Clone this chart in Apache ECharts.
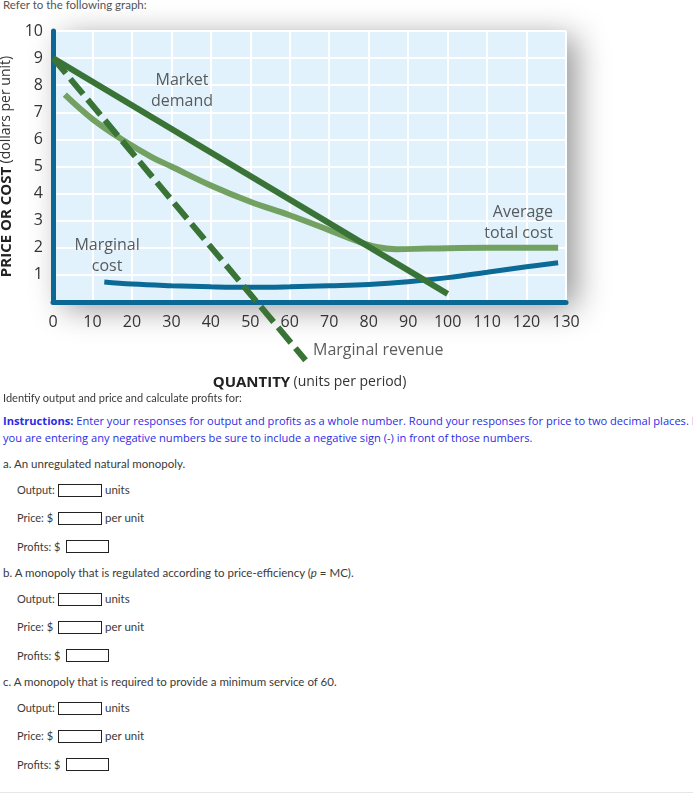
<!DOCTYPE html>
<html>
<head>
<meta charset="utf-8">
<script src="https://cdn.jsdelivr.net/npm/echarts@6/dist/echarts.min.js"></script>
<style>
  html, body { margin:0; padding:0; background:#fff; width:693px; height:799px; overflow:hidden; }
  body { position:relative; font-family:"Lato","Open Sans",sans-serif; font-size:11.5px; color:#3a3a3a; }
  #chart { position:absolute; left:0; top:0; width:693px; height:395px; }
  .t { position:absolute; white-space:nowrap; line-height:14px; }
  .l { font-size:11px; }
  .box { position:absolute; width:42px; height:11px; border:1px solid #222; background:#fff; }
  .box.p { width:41px; }
  #instr { position:absolute; left:3px; top:412px; width:702px; line-height:17px; color:#2b2be6; white-space:normal; font-family:"Open Sans",sans-serif; font-size:11.1px; }
  #rule { position:absolute; left:0; top:792px; width:693px; height:1px; background:#e6e6e6; }
</style>
</head>
<body>
<div class="t" style="left:3px;top:-2px;color:#555;">Refer to the following graph:</div>
<div id="chart"></div>
<div class="t" style="left:3px;top:391px;font-size:11px;">Identify output and price and calculate profits for:</div>
<div id="instr"><b>Instructions:</b> Enter your responses for output and profits as a whole number. Round your responses for price to two decimal places. If you are entering any negative numbers be sure to include a negative sign (-) in front of those numbers.</div>
<div id="form"></div>
<div id="rule"></div>
<script>
// ---- data ----
const xTicks = [0,10,20,30,40,50,60,70,80,90,100,110,120,130];
const yTicks = [1,2,3,4,5,6,7,8,9,10];
const demand = [[0,9],[100,0.3]];
const marginalRevenue = [[0,9],[64,-2.15]];
const averageTotalCost = [[3,7.65],[10,6.75],[18,5.95],[25,5.35],[30,5.0],[40,4.3],[50,3.7],[60,3.2],[70,2.65],[77,2.25],[82,2.03],[87,1.95],[95,1.97],[110,2.0],[128,2.0]];
const marginalCost = [[13,0.74],[20,0.66],[30,0.6],[40,0.56],[50,0.54],[60,0.56],[70,0.6],[80,0.65],[90,0.75],[100,0.9],[110,1.1],[120,1.3],[128,1.45]];
const curveLabels = [
  {name:'Market\ndemand', value:[32.7,7.8], align:'center'},
  {name:'Average\ntotal cost', value:[126.7,2.92], align:'right'},
  {name:'Marginal\ncost', value:[13.7,1.7], align:'center'},
  {name:'Marginal revenue', value:[65.9,-1.77], align:'left'}
];
const parts = [
  {head:'a. An unregulated natural monopoly.', y:464},
  {head:'b. A monopoly that is regulated according to price-efficiency (<i>p</i> = MC).', y:573},
  {head:'c. A monopoly that is required to provide a minimum service of 60.', y:682}
];

// ---- form ----
const form = document.getElementById('form');
let html = '';
parts.forEach(p => {
  html += `<div class="t" style="left:3px;top:${p.y-7}px;">${p.head}</div>`;
  const o = p.y + 20, pr = p.y + 48, pf = p.y + 76;
  html += `<div class="t l" style="left:17px;top:${o-1}px;">Output:</div><div class="box" style="left:58px;top:${o}px;"></div><div class="t" style="left:105px;top:${o-1}px;">units</div>`;
  html += `<div class="t l" style="left:17px;top:${pr-1}px;">Price: $</div><div class="box" style="left:58px;top:${pr}px;"></div><div class="t" style="left:105px;top:${pr-1}px;">per unit</div>`;
  html += `<div class="t l" style="left:17px;top:${pf}px;">Profits: $</div><div class="box p" style="left:66px;top:${pf}px;"></div>`;
});
form.innerHTML = html;

// ---- chart ----
const FONT = '"Open Sans", sans-serif';
const nameRich = {b:{fontFamily:FONT,fontSize:15,fontWeight:'bold',color:'#222'},n:{fontFamily:FONT,fontSize:14,color:'#333'}};
const chart = echarts.init(document.getElementById('chart'));
chart.setOption({
  animation:false,
  grid:{left:53, top:31, width:513, height:271, containLabel:false, outerBoundsMode:'none',
        show:true, backgroundColor:'#e1f2fc', borderWidth:0,
        shadowBlur:30, shadowColor:'rgba(0,0,0,0.42)', shadowOffsetX:10, shadowOffsetY:6},
  xAxis:{type:'value', min:0, max:130, interval:10,
    name:'{b|QUANTITY} {n|(units per period)}', nameLocation:'middle', nameGap:73,
    nameTextStyle:{rich:nameRich},
    axisLine:{show:true, onZero:false, lineStyle:{color:'#0b6794', width:5}},
    axisTick:{show:false},
    axisLabel:{fontFamily:FONT, fontSize:16, color:'#333', margin:12, formatter:v => xTicks.includes(v) ? String(v) : ''},
    splitLine:{show:true, lineStyle:{color:'#ffffff', width:2}}
  },
  yAxis:{type:'value', min:0, max:10, interval:1,
    name:'{b|PRICE OR COST} {n|(dollars per unit)}', nameLocation:'middle', nameGap:33, nameRotate:90,
    nameTextStyle:{rich:nameRich},
    axisLine:{show:true, onZero:false, lineStyle:{color:'#0b6794', width:5}},
    axisTick:{show:false},
    axisLabel:{fontFamily:FONT, fontSize:16, color:'#333', margin:10, formatter:v => yTicks.includes(v) ? String(v) : ''},
    splitLine:{show:true, lineStyle:{color:'#ffffff', width:2}}
  },
  series:[
    {type:'line', data:averageTotalCost, smooth:0.4, showSymbol:false, lineStyle:{color:'#73a161', width:6}, z:3},
    {type:'line', data:marginalCost, smooth:0.4, showSymbol:false, lineStyle:{color:'#0b6a96', width:5}, z:4},
    {type:'line', data:marginalRevenue, showSymbol:false, clip:false, lineStyle:{color:'#3a7336', width:6, type:[20,7]}, z:5},
    {type:'line', data:demand, showSymbol:false, lineStyle:{color:'#3a7336', width:6}, z:6},
    {type:'scatter', data:curveLabels.map(d => ({name:d.name, value:d.value, label:{align:d.align}})),
      symbolSize:1, itemStyle:{color:'rgba(0,0,0,0)'}, clip:false, z:7, silent:true,
      label:{show:true, position:'inside', formatter:'{b}', fontFamily:FONT, fontSize:16, lineHeight:21, color:'#333'}}
  ]
});
</script>
</body>
</html>
